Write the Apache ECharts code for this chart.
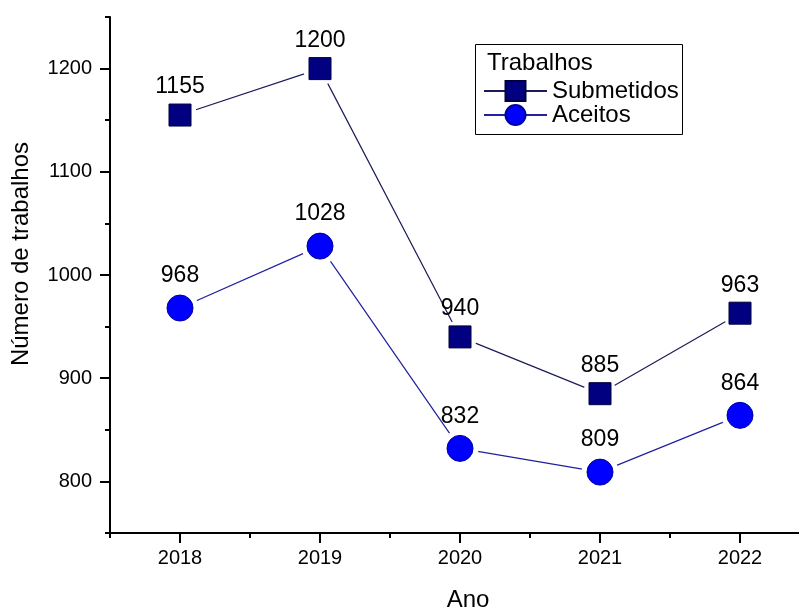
<!DOCTYPE html>
<html>
<head>
<meta charset="utf-8">
<script src="https://cdn.jsdelivr.net/npm/echarts@6/dist/echarts.min.js"></script>
<style>
  html, body { margin: 0; padding: 0; background: #fff; }
  #chart { width: 799px; height: 610px; }
</style>
</head>
<body>
<div id="chart"></div>
<script>
const anos = [2018, 2019, 2020, 2021, 2022]
const submetidos = [1155, 1200, 940, 885, 963]
const aceitos = [968, 1028, 832, 809, 864]

const FONT = 'Liberation Sans, Arial, sans-serif'
const pts = (vals) => anos.map((a, i) => [a, vals[i]])

const chart = echarts.init(document.getElementById('chart'), null, { renderer: 'canvas' })

// area do grafico: x 2017.5..2022.5 em 110..810, y 750..1250 em 533..17
const L = 110, T = 17, W = 700, H = 516
const pxX = W / 5, pxY = H / 500
const tickStyle = { width: 2, color: '#000' }
// linha invisivel: sem linha o eixo nao desenha as marcas
const hiddenLine = { show: true, lineStyle: { color: 'rgba(0,0,0,0)' } }

chart.setOption({
  animation: false,
  backgroundColor: '#fff',
  textStyle: { fontFamily: FONT },
  grid: [
    { left: L, top: T, width: W, height: H, outerBoundsMode: 'none', containLabel: false },
    // grade auxiliar para as marcas principais (2018..2022, 800..1200)
    { left: L + pxX / 2, top: T + 50 * pxY, width: 4 * pxX, height: 400 * pxY,
      outerBoundsMode: 'none', containLabel: false }
  ],
  xAxis: [
    {
      type: 'value', gridIndex: 0, min: 2017.5, max: 2022.5, interval: 1,
      splitLine: { show: false },
      name: 'Ano', nameLocation: 'middle', nameGap: 55,
      nameTextStyle: { fontSize: 24, color: '#000', fontFamily: FONT, padding: [0, 0, 0, 16] },
      axisLine: { lineStyle: { color: '#000', width: 2 } },
      axisTick: { show: true, length: 5, lineStyle: tickStyle },
      axisLabel: { show: false }
    },
    {
      type: 'value', gridIndex: 1, min: 2018, max: 2022, interval: 1,
      offset: 50 * pxY, splitLine: { show: false },
      axisLine: hiddenLine,
      axisTick: { show: true, length: 10, lineStyle: tickStyle },
      axisLabel: { fontSize: 20, color: '#000', margin: 15, formatter: (v) => String(v) }
    }
  ],
  yAxis: [
    {
      type: 'value', gridIndex: 0, min: 750, max: 1250, interval: 100,
      splitLine: { show: false },
      name: 'Número de trabalhos', nameLocation: 'middle', nameGap: 77,
      nameTextStyle: { fontSize: 24, color: '#000', fontFamily: FONT, padding: [0, 0, 0, 42] },
      axisLine: { show: true, lineStyle: { color: '#000', width: 2 } },
      axisTick: { show: true, length: 5, lineStyle: tickStyle },
      axisLabel: { show: false }
    },
    {
      type: 'value', gridIndex: 1, min: 800, max: 1200, interval: 100,
      offset: pxX / 2, splitLine: { show: false },
      axisLine: hiddenLine,
      axisTick: { show: true, length: 10, lineStyle: tickStyle },
      axisLabel: { fontSize: 20, color: '#000', margin: 18, formatter: (v) => String(v) }
    }
  ],
  legend: {
    orient: 'vertical', left: 483, top: 79, padding: 0, itemGap: 0,
    itemWidth: 63, itemHeight: 25,
    data: ['Submetidos', 'Aceitos'],
    textStyle: { fontSize: 24, color: '#000', fontFamily: FONT }
  },
  graphic: [
    {
      type: 'rect', left: 475, top: 44, z: 0,
      shape: { width: 207, height: 90 },
      style: { fill: '#fff', stroke: '#000', lineWidth: 1 }
    },
    {
      type: 'text', left: 487, top: 51, z: 1,
      style: { text: 'Trabalhos', fontSize: 24, fill: '#000', fontFamily: FONT }
    }
  ],
  series: [
    // linhas (com simbolos para a legenda)
    {
      name: 'Submetidos', type: 'line', data: pts(submetidos), z: 2,
      symbol: 'rect', symbolSize: 22,
      lineStyle: { color: '#1c1c5a', width: 1.2 },
      itemStyle: { color: '#000080', borderColor: '#00003a', borderWidth: 1, opacity: 1 }
    },
    {
      name: 'Aceitos', type: 'line', data: pts(aceitos), z: 2,
      symbol: 'circle', symbolSize: 26,
      lineStyle: { color: '#2020a0', width: 1.2 },
      itemStyle: { color: '#0000ff', borderColor: '#0000a0', borderWidth: 1, opacity: 1 }
    },
    // halo branco (espaco entre linha e marcador)
    {
      name: 'haloS', type: 'scatter', data: pts(submetidos), z: 3, silent: true,
      symbol: 'circle', symbolSize: 34, itemStyle: { color: '#fff', opacity: 1 }
    },
    {
      name: 'haloA', type: 'scatter', data: pts(aceitos), z: 3, silent: true,
      symbol: 'circle', symbolSize: 37, itemStyle: { color: '#fff', opacity: 1 }
    },
    // marcadores + rotulos
    {
      name: 'markS', type: 'scatter', data: pts(submetidos), z: 4, silent: true,
      symbol: 'rect', symbolSize: 22,
      itemStyle: { color: '#000080', borderColor: '#00003a', borderWidth: 1, opacity: 1 },
      label: { show: true, position: 'top', distance: 5, fontSize: 23, color: '#000',
        fontFamily: FONT, formatter: (p) => p.value[1] }
    },
    {
      name: 'markA', type: 'scatter', data: pts(aceitos), z: 4, silent: true,
      symbol: 'circle', symbolSize: 26,
      itemStyle: { color: '#0000ff', borderColor: '#0000a0', borderWidth: 1, opacity: 1 },
      label: { show: true, position: 'top', distance: 7, fontSize: 23, color: '#000',
        fontFamily: FONT, formatter: (p) => p.value[1] }
    }
  ]
})
</script>
</body>
</html>
